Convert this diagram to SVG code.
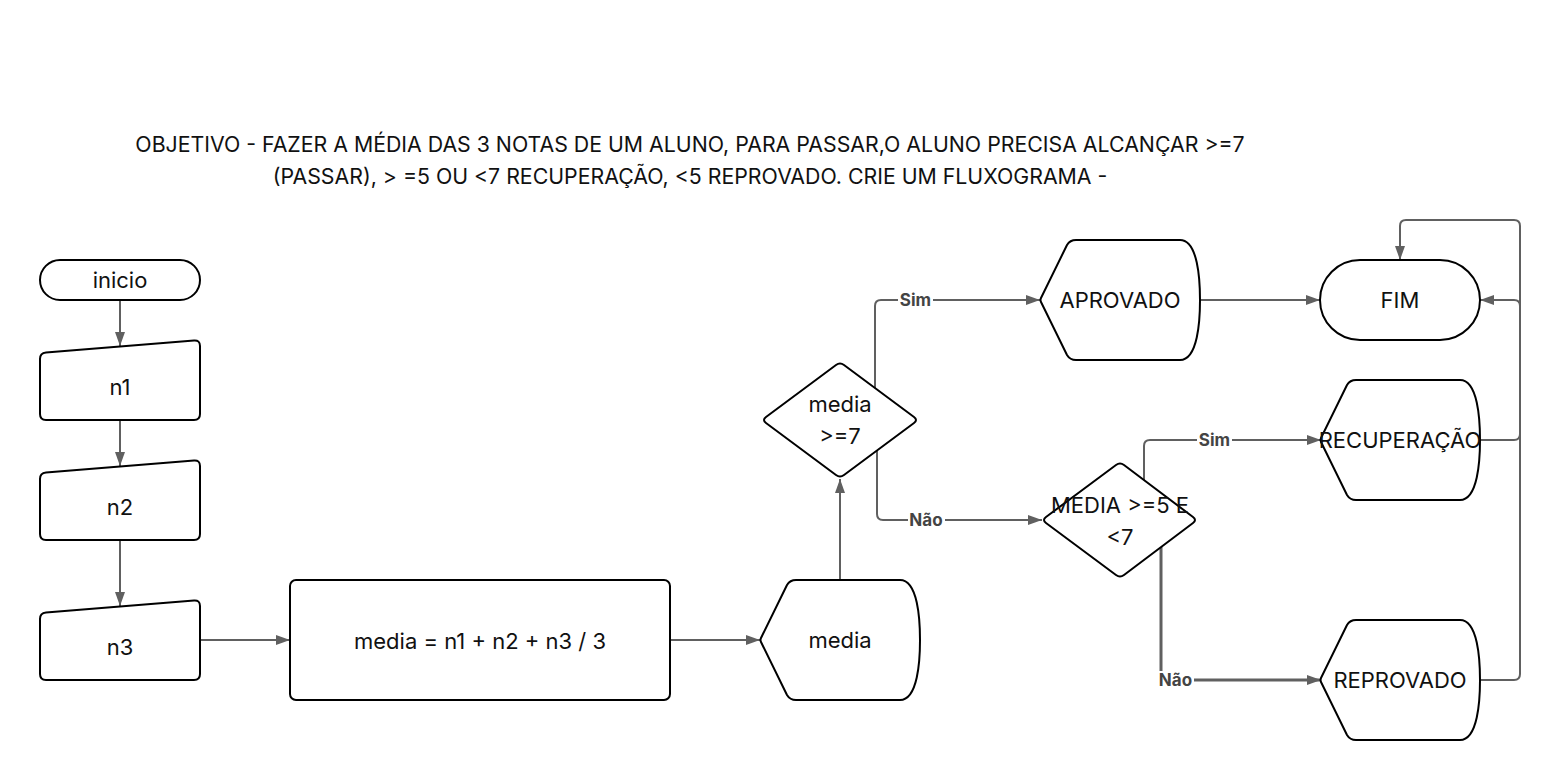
<svg xmlns="http://www.w3.org/2000/svg" xmlns:xlink="http://www.w3.org/1999/xlink" width="1561" height="780" viewBox="0 0 1561 780">
<style>
  .node { fill: #ffffff; stroke: #000000; stroke-width: 2; stroke-linejoin: round; }
  .t { font-family: Inter, "Liberation Sans", sans-serif; font-size: 22px; fill: #111111; text-anchor: middle; dominant-baseline: central; }
  .title { font-family: Inter, "Liberation Sans", sans-serif; font-size: 21.3px; fill: #111111; text-anchor: middle; }
  .conn { fill: none; stroke: #606060; stroke-width: 2; stroke-linejoin: round; }
  .lbl { font-family: Inter, "Liberation Sans", sans-serif; font-size: 17px; font-weight: bold; fill: #444444; text-anchor: middle; dominant-baseline: central; }
  .lblbg { fill: #ffffff; }
</style>
<defs>
  <marker id="arr" viewBox="0 0 14 10" refX="14" refY="5" markerWidth="14" markerHeight="10" markerUnits="userSpaceOnUse" orient="auto">
    <path d="M0,0 L14,5 L0,10 Z" fill="#606060"/>
  </marker>
  <path id="disp" d="M36,0 L140,0 C158,0 160,40 160,60 C160,80 158,120 140,120 L36,120 Q30,120 27,115 L1,62 Q0,60 1,58 L27,5 Q30,0 36,0 Z"/>
</defs>
<rect width="1561" height="780" fill="#ffffff"/>

<g id="title">
  <text class="title" x="690" y="152">OBJETIVO - FAZER A MÉDIA DAS 3 NOTAS DE UM ALUNO, PARA PASSAR,O ALUNO PRECISA ALCANÇAR &gt;=7</text>
  <text class="title" x="690" y="184">(PASSAR), &gt; =5 OU &lt;7 RECUPERAÇÃO, &lt;5 REPROVADO. CRIE UM FLUXOGRAMA -</text>
</g>

<g id="connectors">
  <path class="conn" d="M120,300 L120,346" marker-end="url(#arr)"/>
  <path class="conn" d="M120,420 L120,466" marker-end="url(#arr)"/>
  <path class="conn" d="M120,540 L120,606" marker-end="url(#arr)"/>
  <path class="conn" d="M200,640 L290,640" marker-end="url(#arr)"/>
  <path class="conn" d="M670,640 L760,640" marker-end="url(#arr)"/>
  <path class="conn" d="M840,580 L840,479" marker-end="url(#arr)"/>
  <path class="conn" d="M875,388 L875,306 Q875,300 881,300 L1040,300" marker-end="url(#arr)"/>
  <path class="conn" d="M877,450 L877,514 Q877,520 883,520 L1042,520" marker-end="url(#arr)"/>
  <path class="conn" d="M1200,300 L1320,300" marker-end="url(#arr)"/>
  <path class="conn" d="M1144,480 L1144,446 Q1144,440 1150,440 L1321,440" marker-end="url(#arr)"/>
  <path class="conn" style="stroke-width:3" d="M1161,547 L1161,680 L1321,680" marker-end="url(#arr)"/>
  <path class="conn" d="M1480,440 L1514,440 Q1520,440 1520,434 L1520,306 Q1520,300 1514,300 L1480,300" marker-end="url(#arr)"/>
  <path class="conn" d="M1480,680 L1514,680 Q1520,680 1520,674 L1520,226 Q1520,220 1514,220 L1406,220 Q1400,220 1400,226 L1400,260" marker-end="url(#arr)"/>
  <rect class="lblbg" x="898" y="291" width="35" height="18"/>
  <text class="lbl" x="915.5" y="300">Sim</text>
  <rect class="lblbg" x="908" y="511" width="37" height="18"/>
  <text class="lbl" x="926" y="520">Não</text>
  <rect class="lblbg" x="1197" y="431" width="35" height="18"/>
  <text class="lbl" x="1214.5" y="440">Sim</text>
  <rect class="lblbg" x="1157" y="671" width="37" height="18"/>
  <text class="lbl" x="1175.5" y="680">Não</text>
</g>

<g id="inicio">
  <rect class="node" x="40" y="260" width="160" height="40" rx="20" ry="20"/>
  <text class="t" x="120" y="280">inicio</text>
</g>
<g id="n1">
  <path class="node" d="M46,352.5 L194,340.5 Q200,340 200,346 L200,414 Q200,420 194,420 L46,420 Q40,420 40,414 L40,359 Q40,353 46,352.5 Z"/>
  <text class="t" x="120" y="387">n1</text>
</g>
<g id="n2">
  <path class="node" d="M46,472.5 L194,460.5 Q200,460 200,466 L200,534 Q200,540 194,540 L46,540 Q40,540 40,534 L40,479 Q40,473 46,472.5 Z"/>
  <text class="t" x="120" y="507">n2</text>
</g>
<g id="n3">
  <path class="node" d="M46,612.5 L194,600.5 Q200,600 200,606 L200,674 Q200,680 194,680 L46,680 Q40,680 40,674 L40,619 Q40,613 46,612.5 Z"/>
  <text class="t" x="120" y="647">n3</text>
</g>
<g id="calc">
  <rect class="node" x="290" y="580" width="380" height="120" rx="6" ry="6"/>
  <text class="t" x="480" y="641">media = n1 + n2 + n3 / 3</text>
</g>
<g id="media">
  <use class="node" xlink:href="#disp" href="#disp" x="760" y="580"/>
  <text class="t" x="840" y="640">media</text>
</g>
<g id="dec1">
  <path class="node" d="M836,365 Q840,362 844,365 L914,417 Q918,420 914,423 L844,475 Q840,478 836,475 L766,423 Q762,420 766,417 Z"/>
  <text class="t" x="840" y="404">media</text>
  <text class="t" x="840" y="436">&gt;=7</text>
</g>
<g id="aprovado">
  <use class="node" xlink:href="#disp" href="#disp" x="1040" y="240"/>
  <text class="t" x="1120" y="300">APROVADO</text>
</g>
<g id="dec2">
  <path class="node" d="M1116,465 Q1120,462 1124,465 L1193,517 Q1197,520 1193,523 L1124,575 Q1120,578 1116,575 L1046,523 Q1042,520 1046,517 Z"/>
  <text class="t" x="1120" y="505">MEDIA &gt;=5 E</text>
  <text class="t" x="1120" y="537">&lt;7</text>
</g>
<g id="fim">
  <rect class="node" x="1320" y="260" width="160" height="80" rx="40" ry="40"/>
  <text class="t" x="1400" y="300">FIM</text>
</g>
<g id="recuperacao">
  <use class="node" xlink:href="#disp" href="#disp" x="1320" y="380"/>
  <text class="t" x="1400" y="440">RECUPERAÇÃO</text>
</g>
<g id="reprovado">
  <use class="node" xlink:href="#disp" href="#disp" x="1320" y="620"/>
  <text class="t" x="1400" y="680">REPROVADO</text>
</g>
</svg>
